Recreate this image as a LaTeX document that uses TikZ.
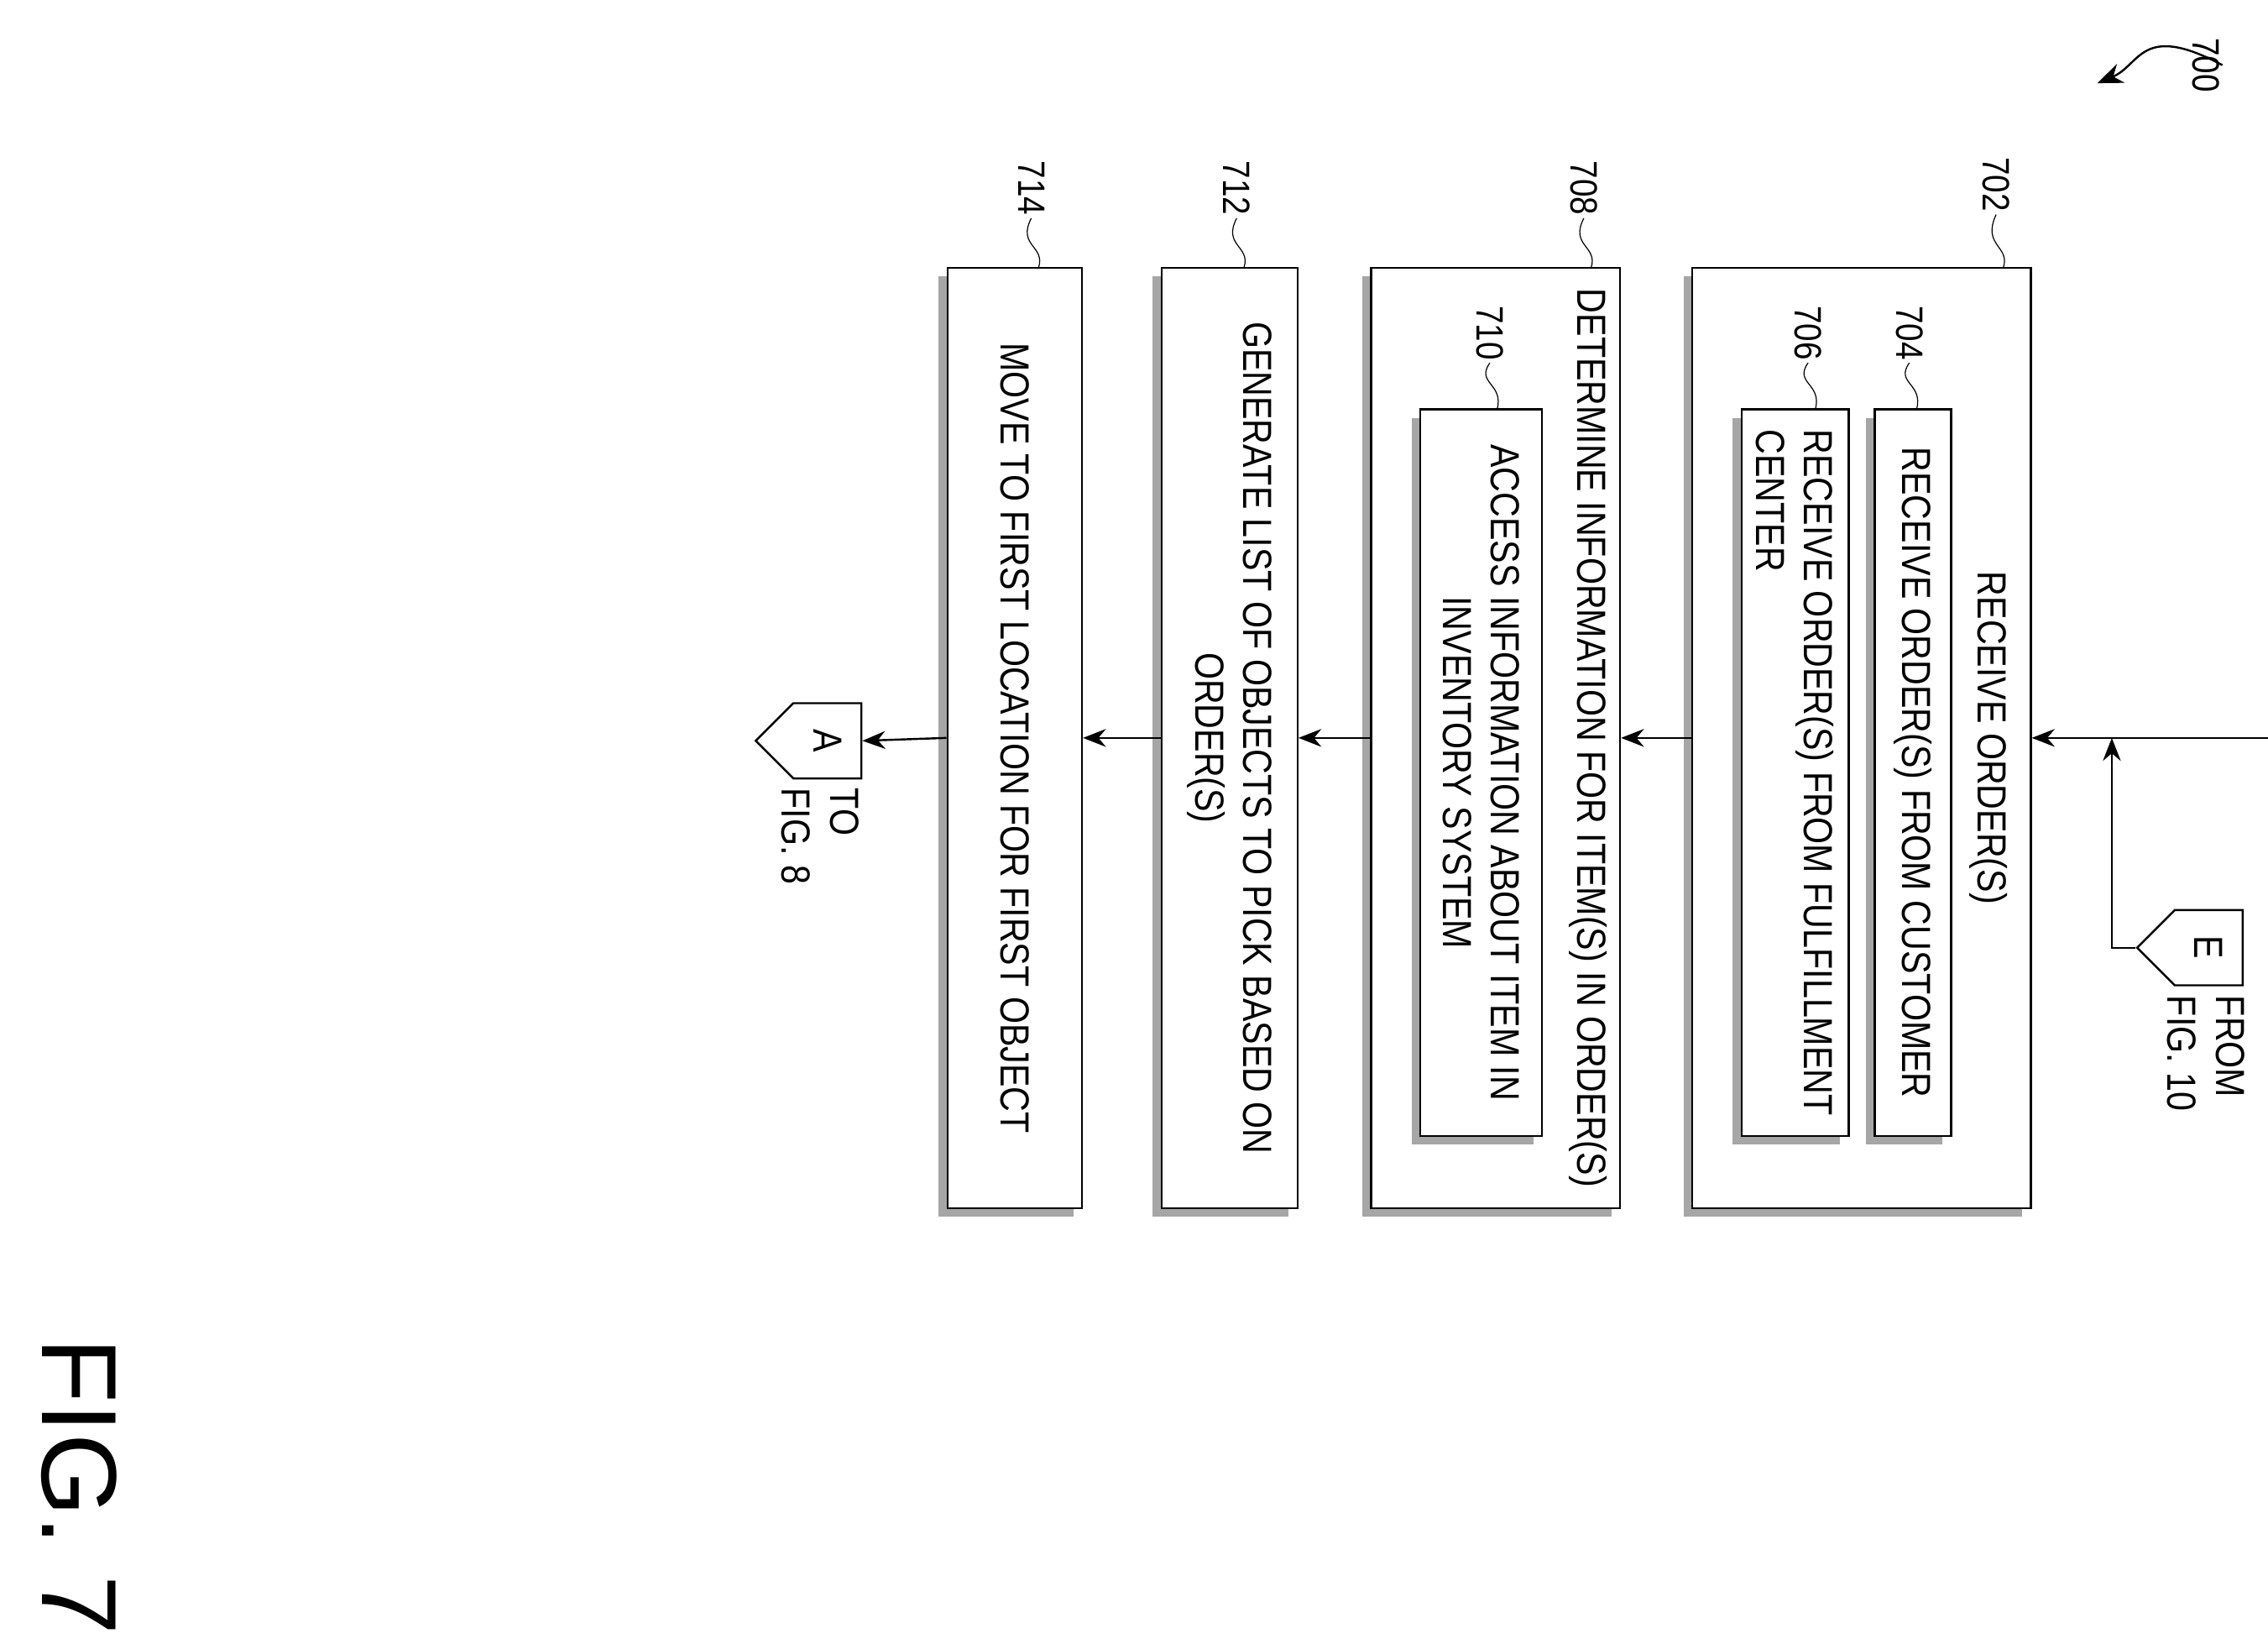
\documentclass[tikz,border=0pt]{standalone}
\usepackage{fontspec}
\setmainfont[FakeStretch=0.85]{Liberation Sans}
\newfontfamily\plainsans{Liberation Sans}
\usetikzlibrary{shapes.symbols,shadows,arrows.meta}
\tikzstyle{box} = [rectangle, draw=black, thick, fill=white, drop shadow={shadow xshift=-0.12cm, shadow yshift=-0.12cm, fill=gray!70, opacity=1}]
\tikzstyle{txt} = [rotate=-90, font=\fontsize{16}{19}\selectfont, align=center, inner sep=0pt]
\tikzstyle{refnum} = [rotate=-90, font=\fontsize{15}{17}\selectfont, inner sep=1pt]
\tikzstyle{conn} = [signal, signal to=south, draw=black, thick, fill=white, rotate=-90, minimum width=1.04cm, minimum height=1.1cm, font=\fontsize{16}{19}\selectfont, inner sep=0pt]
\tikzstyle{arrow} = [thick,-{Stealth[length=9pt,width=7pt]}]
\tikzstyle{squig} = [thin]
\begin{document}
\begin{tikzpicture}
        \useasboundingbox (0,0) rectangle (31.36,-22.72);
        % boxes
        \node (b702) [box, minimum width=4.68cm, minimum height=13cm] at (25.74,-10.2) {};
        \node (b704) [box, minimum width=1.06cm, minimum height=10.04cm] at (26.45,-10.68) {};
        \node (b706) [box, minimum width=1.48cm, minimum height=10.04cm] at (24.82,-10.68) {};
        \node (b708) [box, minimum width=3.44cm, minimum height=13cm] at (20.68,-10.2) {};
        \node (b710) [box, minimum width=1.68cm, minimum height=10.04cm] at (20.48,-10.68) {};
        \node (b712) [box, minimum width=1.88cm, minimum height=13cm] at (17.0,-10.2) {};
        \node (b714) [box, minimum width=1.86cm, minimum height=13cm] at (14.03,-10.2) {};

        % texts
        \node (t702) [txt] at (27.5,-10.2) {RECEIVE ORDER(S)};
        \node (t704) [txt] at (26.45,-10.68) {RECEIVE ORDER(S) FROM CUSTOMER};
        \node (t706) [txt, align=left] at (24.82,-10.68) {RECEIVE ORDER(S) FROM FULFILLMENT\\CENTER};
        \node (t708) [txt] at (21.96,-10.2) {DETERMINE INFORMATION FOR ITEM(S) IN ORDER(S)};
        \node (t710) [txt] at (20.48,-10.68) {ACCESS INFORMATION ABOUT ITEM IN\\INVENTORY SYSTEM};
        \node (t712) [txt] at (17.0,-10.2) {GENERATE LIST OF OBJECTS TO PICK BASED ON\\ORDER(S)};
        \node (t714) [txt] at (14.03,-10.2) {MOVE TO FIRST LOCATION FOR FIRST OBJECT};

        % off-page connectors
        \node (conE) [conn] at (30.54,-13.1) {E};
        \node (conA) [conn] at (11.44,-10.24) {A};
        \node (fromE) [txt, align=left] at (30.5,-14.56) {FROM\\FIG. 10};
        \node (toA) [txt, align=left] at (11.34,-11.56) {TO\\FIG. 8};

        % connectors
        \coordinate (entry) at (31.36,-10.2);
        \coordinate (join) at (29.2,-10.2);
        \draw [thick] (entry) -- (join);
        \draw [arrow] (join) -- (b702);
        \draw [arrow] (conE.south) -| (join);
        \draw [arrow] (b702) -- (b708);
        \draw [arrow] (b708) -- (b712);
        \draw [arrow] (b712) -- (b714);
        \draw [arrow] (b714.west) -- (conA.north);

        % reference numerals
        \node (r702) [refnum] at (27.6,-2.55) {702};
        \node (r704) [refnum] at (26.4,-4.6) {704};
        \node (r706) [refnum] at (25.0,-4.6) {706};
        \node (r708) [refnum] at (21.9,-2.6) {708};
        \node (r710) [refnum] at (20.6,-4.6) {710};
        \node (r712) [refnum] at (17.1,-2.6) {712};
        \node (r714) [refnum] at (14.26,-2.6) {714};
        \draw [squig] (r702.east) .. controls (27.4,-3.4) and (27.8,-3.4) .. (27.7,-3.7);
        \draw [squig] (r704.east) .. controls (26.2,-5.3) and (26.6,-5.3) .. (26.5,-5.66);
        \draw [squig] (r706.east) .. controls (24.8,-5.3) and (25.2,-5.3) .. (25.1,-5.66);
        \draw [squig] (r708.east) .. controls (21.7,-3.4) and (22.1,-3.4) .. (22.0,-3.7);
        \draw [squig] (r710.east) .. controls (20.4,-5.3) and (20.8,-5.3) .. (20.7,-5.66);
        \draw [squig] (r712.east) .. controls (16.9,-3.4) and (17.3,-3.4) .. (17.2,-3.7);
        \draw [squig] (r714.east) .. controls (14.06,-3.4) and (14.46,-3.4) .. (14.36,-3.7);

        % figure number
        \node (r700) [refnum] at (30.5,-0.9) {700};
        \draw [thick,-{Stealth[length=10pt,width=8pt]}] (r700.north) .. controls (29.6,-0.3) and (29.6,-0.9) .. (29.0,-1.15);
        \node (fig) [rotate=-90, font=\plainsans\fontsize{42}{44}\selectfont] at (1.1,-20.55) {FIG. 7};
    \end{tikzpicture}
\end{document}
